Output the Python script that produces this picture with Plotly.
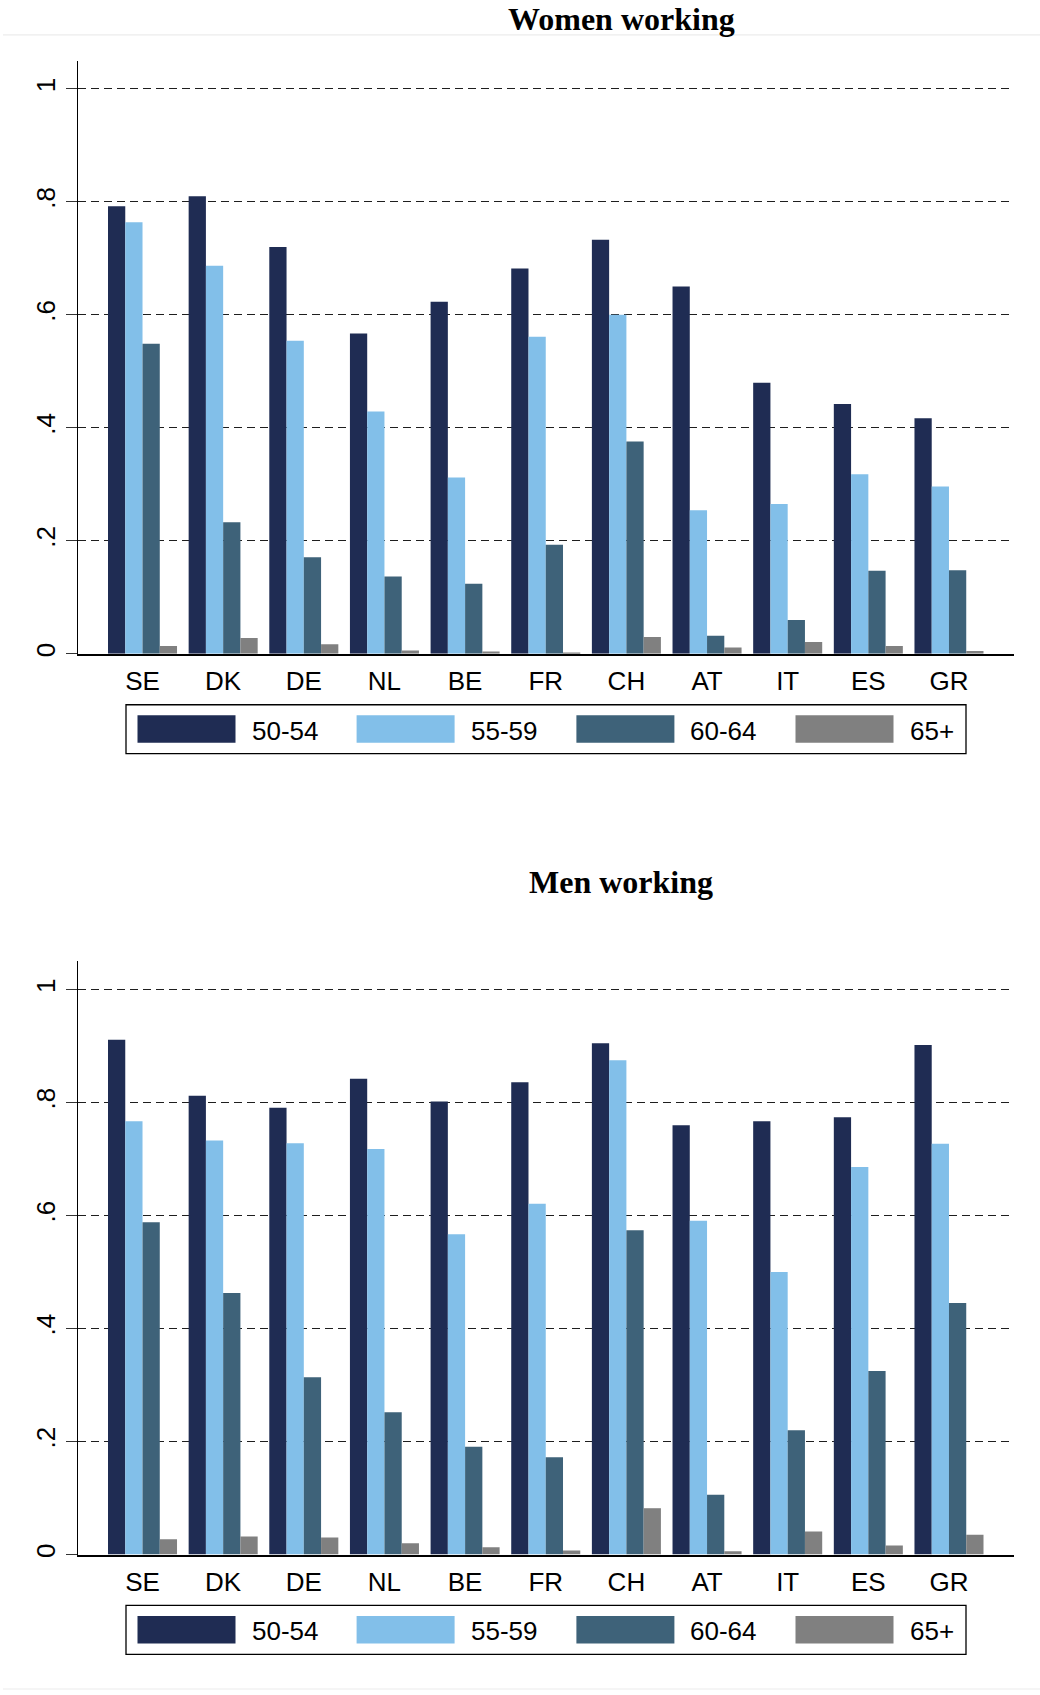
import plotly.graph_objects as go

# ---- data -------------------------------------------------------------
countries = ["SE", "DK", "DE", "NL", "BE", "FR", "CH", "AT", "IT", "ES", "GR"]
age_groups = ["50-54", "55-59", "60-64", "65+"]
bar_colors = ["#1f2c53", "#82bfe9", "#3e6279", "#808080"]

women_50_54 = [0.792, 0.810, 0.720, 0.567, 0.623, 0.682, 0.733, 0.650, 0.480, 0.442, 0.417]
women_55_59 = [0.764, 0.687, 0.554, 0.429, 0.312, 0.561, 0.600, 0.254, 0.265, 0.318, 0.296]
women_60_64 = [0.549, 0.233, 0.171, 0.137, 0.124, 0.193, 0.376, 0.032, 0.060, 0.147, 0.148]
women_65_plus = [0.014, 0.028, 0.017, 0.006, 0.004, 0.002, 0.030, 0.011, 0.021, 0.014, 0.005]

men_50_54 = [0.911, 0.812, 0.791, 0.842, 0.802, 0.836, 0.905, 0.760, 0.767, 0.774, 0.902]
men_55_59 = [0.767, 0.733, 0.728, 0.718, 0.567, 0.621, 0.875, 0.591, 0.500, 0.686, 0.727]
men_60_64 = [0.588, 0.463, 0.314, 0.252, 0.191, 0.172, 0.574, 0.106, 0.220, 0.325, 0.445]
men_65_plus = [0.027, 0.032, 0.030, 0.020, 0.013, 0.007, 0.082, 0.006, 0.041, 0.016, 0.035]

y_tick_vals = [0, 0.2, 0.4, 0.6, 0.8, 1.0]
y_tick_text = ["0", ".2", ".4", ".6", ".8", "1"]

# ---- page geometry (pixels) --------------------------------------------
W, H = 1040, 1695
Y_MAX = 1.05
PLOT_LEFT, PLOT_RIGHT = 78, 1013.5
UNIT = 566  # pixels per 1.0 on the value axis


def fx(p):
    return p / W


def fy(p):
    return 1 - p / H


panels = [
    dict(title="Women working", title_y=19, base=655,
         series=[women_50_54, women_55_59, women_60_64, women_65_plus],
         xa="x", ya="y", xkey="xaxis", ykey="yaxis"),
    dict(title="Men working", title_y=884, base=1557.3,
         series=[men_50_54, men_55_59, men_60_64, men_65_plus],
         xa="x2", ya="y2", xkey="xaxis2", ykey="yaxis2"),
]

fig = go.Figure()
shapes = []
annotations = []
layout_axes = {}

axis_font = dict(family="Liberation Sans, Arial, sans-serif", size=26, color="black")

for p in panels:
    for name, vals, col in zip(age_groups, p["series"], bar_colors):
        fig.add_trace(go.Bar(
            x=countries, y=vals, name=name,
            marker=dict(color=col, line=dict(width=0)),
            xaxis=p["xa"], yaxis=p["ya"], showlegend=False,
        ))

    base = p["base"]
    layout_axes[p["xkey"]] = dict(
        domain=[fx(PLOT_LEFT), fx(PLOT_RIGHT)],
        anchor=p["ya"], type="category", range=[-0.8, 10.8],
        showline=True, linecolor="black", linewidth=1.6,
        ticks="", showgrid=False, zeroline=False,
        tickfont=axis_font, ticklabelstandoff=3,
    )
    layout_axes[p["ykey"]] = dict(
        domain=[fy(base), fy(base - Y_MAX * UNIT)],
        anchor=p["xa"], range=[0, Y_MAX],
        tickvals=y_tick_vals, ticktext=y_tick_text, tickangle=-90,
        tickfont=axis_font,
        showgrid=True, gridcolor="#1e1e1e", gridwidth=1.4, griddash="8px,5px",
        zeroline=False, showline=True, linecolor="black", linewidth=1.3,
        ticks="outside", ticklen=11, tickwidth=1.3, tickcolor="#333333",
    )

    # panel heading
    annotations.append(dict(
        text="<b>" + p["title"] + "</b>", x=fx(621), y=fy(p["title_y"]),
        xref="paper", yref="paper", xanchor="center", yanchor="middle",
        showarrow=False,
        font=dict(family="Liberation Serif, Times New Roman, serif", size=32, color="black"),
    ))

    # key below the panel
    shapes.append(dict(type="rect", xref="paper", yref="paper",
                       x0=fx(126), x1=fx(966), y0=fy(base + 51), y1=fy(base + 100),
                       line=dict(color="black", width=1.3), fillcolor="white"))
    for i, (name, col) in enumerate(zip(age_groups, bar_colors)):
        x0 = [137.5, 356.6, 576.4, 795.5][i]
        shapes.append(dict(type="rect", xref="paper", yref="paper",
                           x0=fx(x0), x1=fx(x0 + 98), y0=fy(base + 61.5), y1=fy(base + 89),
                           line=dict(width=0), fillcolor=col))
        annotations.append(dict(
            text=name, x=fx(x0 + 112), y=fy(base + 77),
            xref="paper", yref="paper", xanchor="left", yanchor="middle",
            showarrow=False, font=axis_font,
        ))

# faint frame lines of the graph region
for yline in (35, 1692):
    shapes.append(dict(type="line", xref="paper", yref="paper",
                       x0=fx(3), x1=1, y0=fy(yline), y1=fy(yline),
                       line=dict(color="#ececec", width=1.2)))

fig.update_layout(
    width=W, height=H,
    margin=dict(l=0, r=0, t=0, b=0),
    paper_bgcolor="white", plot_bgcolor="white",
    barmode="group", bargap=0.144, bargroupgap=0,
    shapes=shapes, annotations=annotations,
    **layout_axes,
)

fig.write_html("out.html")
